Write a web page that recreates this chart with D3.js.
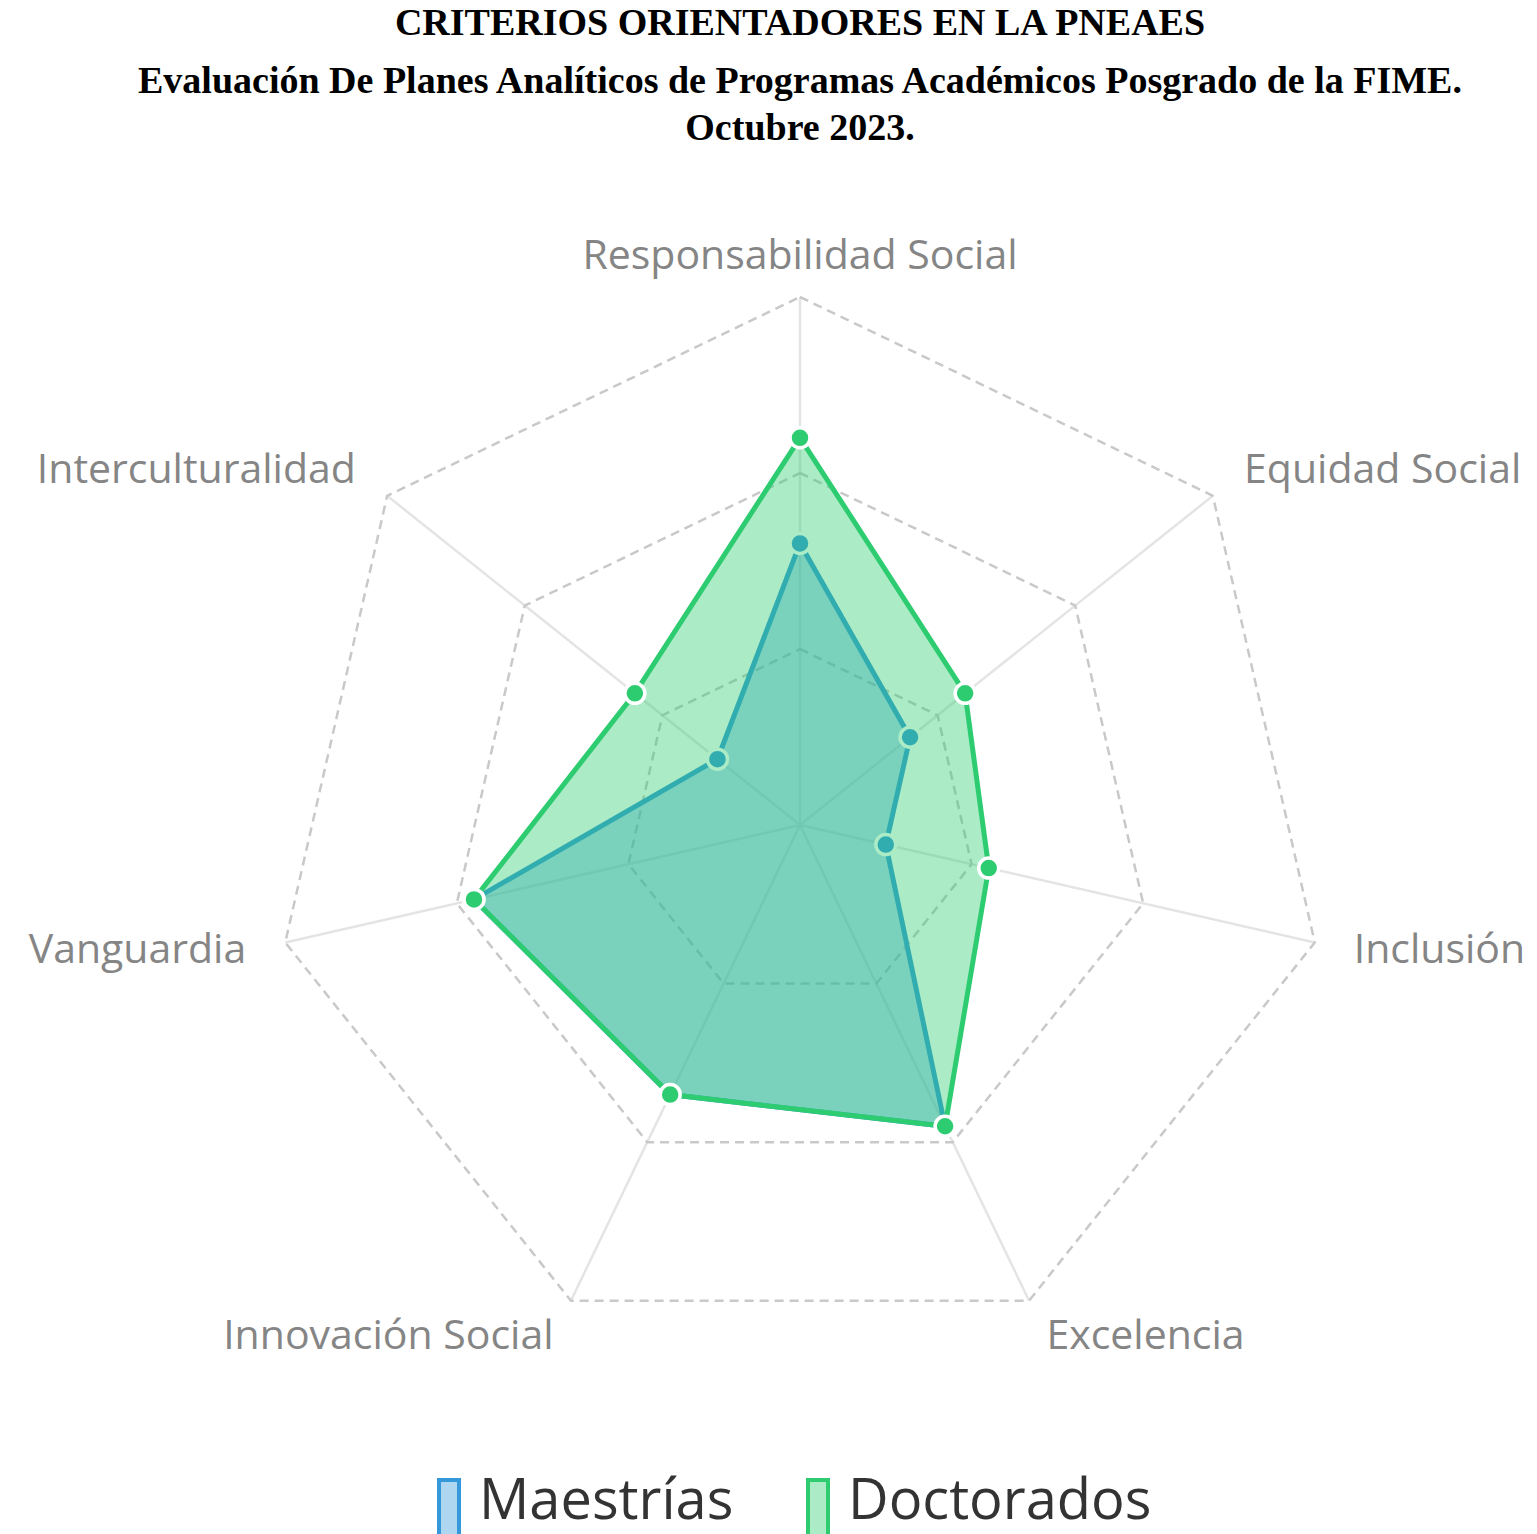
<!DOCTYPE html>
<html>
<head>
<meta charset="utf-8">
<script src="https://cdn.jsdelivr.net/npm/d3@7"></script>
<style>
  body { margin: 0; background: #fff; }
  svg { display: block; }
</style>
</head>
<body>
<div id="chart"></div>
<script>
// datos del gráfico
const titleLines = [
  "CRITERIOS ORIENTADORES EN LA PNEAES",
  "Evaluación De Planes Analíticos de Programas Académicos Posgrado de la FIME.",
  "Octubre 2023."
];
const axes = ["Responsabilidad Social", "Equidad Social", "Inclusión", "Excelencia",
              "Innovación Social", "Vanguardia", "Interculturalidad"];
const seriesNames = ["Maestrías", "Doctorados"];
const maestrias = [16, 8, 5, 19, 17, 19, 6];
const doctorados = [22, 12, 11, 19, 17, 19, 12];
const gridTicks = [10, 20, 30];
const scaleMax = 30;

const width = 1537, height = 1534;
const cx = 800, cy = 825, R = 528;

const svg = d3.select("#chart").append("svg")
    .attr("width", width)
    .attr("height", height);

// títulos
const titleY = [22, 80, 127];
svg.selectAll("text.title")
    .data(titleLines)
    .join("text")
    .attr("class", "title")
    .attr("x", 800)
    .attr("y", (d, i) => titleY[i])
    .attr("text-anchor", "middle")
    .attr("dominant-baseline", "central")
    .style("font-family", "'Liberation Serif', 'Times New Roman', serif")
    .style("font-weight", "bold")
    .style("font-size", "38px")
    .style("fill", "#000")
    .text(d => d);

const rScale = d3.scaleLinear().domain([0, scaleMax]).range([0, R]);
const angle = i => -Math.PI / 2 + i * 2 * Math.PI / axes.length;
const pt = (i, v) => [cx + rScale(v) * Math.cos(angle(i)), cy + rScale(v) * Math.sin(angle(i))];

const g = svg.append("g");

// ejes radiales
g.selectAll("line.spoke")
    .data(axes)
    .join("line")
    .attr("x1", cx).attr("y1", cy)
    .attr("x2", (d, i) => pt(i, scaleMax)[0])
    .attr("y2", (d, i) => pt(i, scaleMax)[1])
    .attr("stroke", "#e4e4e4")
    .attr("stroke-width", 2.5);

// rejilla punteada
g.selectAll("polygon.grid")
    .data(gridTicks)
    .join("polygon")
    .attr("points", t => axes.map((a, i) => pt(i, t).join(",")).join(" "))
    .attr("fill", "none")
    .attr("stroke", "#c9c9c9")
    .attr("stroke-width", 2.5)
    .attr("stroke-dasharray", "9,6");

// etiquetas de ejes
const labelR = scaleMax * (R + 40) / R;
g.selectAll("text.axis-label")
    .data(axes)
    .join("text")
    .attr("x", (d, i) => pt(i, labelR)[0])
    .attr("y", (d, i) => pt(i, labelR)[1] - 4)
    .attr("text-anchor", (d, i) => {
        const c = Math.cos(angle(i));
        return Math.abs(c) < 0.01 ? "middle" : (c > 0 ? "start" : "end");
    })
    .attr("dominant-baseline", "central")
    .style("font-family", "'Open Sans', sans-serif")
    .style("font-size", "41px")
    .style("fill", "#858585")
    .text(d => d);

// series
const series = [
  {name: seriesNames[0], values: maestrias, stroke: "rgb(52,152,219)", fill: "rgba(52,152,219,0.4)"},
  {name: seriesNames[1], values: doctorados, stroke: "rgb(46,204,113)", fill: "rgba(46,204,113,0.4)"}
];

series.forEach(s => {
    const pts = s.values.map((v, i) => pt(i, v));
    g.append("polygon")
        .attr("points", pts.map(p => p.join(",")).join(" "))
        .attr("fill", s.fill)
        .attr("stroke", s.stroke)
        .attr("stroke-width", 5)
        .attr("stroke-linejoin", "miter");
    g.selectAll(null)
        .data(pts)
        .join("circle")
        .attr("cx", p => p[0])
        .attr("cy", p => p[1])
        .attr("r", 10)
        .attr("fill", s.stroke)
        .attr("stroke", "#fff")
        .attr("stroke-width", 3.5);
});

// leyenda
const legendX = [437, 806];
const legend = svg.selectAll("g.legend")
    .data(series)
    .join("g")
    .attr("class", "legend")
    .attr("transform", (d, i) => `translate(${legendX[i]},1478)`);

legend.append("rect")
    .attr("x", 2).attr("y", 2)
    .attr("width", 20).attr("height", 56)
    .attr("fill", d => d.fill)
    .attr("stroke", d => d.stroke)
    .attr("stroke-width", 4);

legend.append("text")
    .attr("x", 42)
    .attr("y", 41)
    .style("font-family", "'Open Sans', sans-serif")
    .style("font-size", "56px")
    .style("fill", "#333")
    .text(d => d.name);
</script>
</body>
</html>
